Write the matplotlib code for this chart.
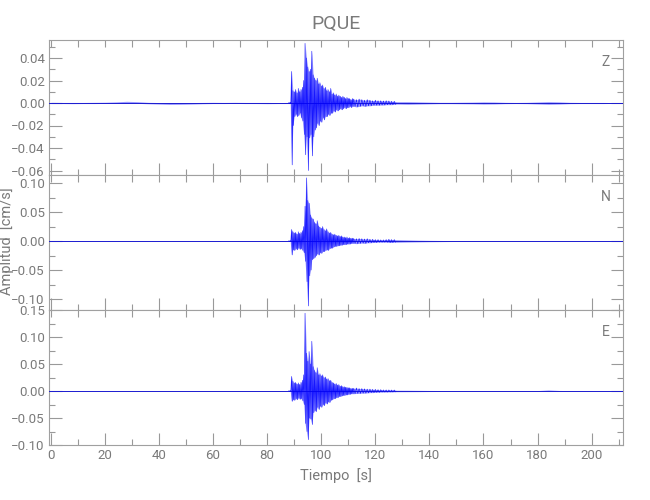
import numpy as np
import matplotlib
matplotlib.use("Agg")
import matplotlib.pyplot as plt
from matplotlib.ticker import MultipleLocator

# %%
# datos leidos del sismograma (envolvente superior / inferior por muestra)
station = "PQUE"
components = ["Z", "N", "E"]

# rejilla de tiempo [s]: ruido previo, llegada, coda, ruido posterior
t_pre = np.arange(0, 88, 4.0)
t_evt = np.arange(88, 112, 0.5)
t_coda = np.arange(112, 128, 1.0)
t_post = np.arange(128, 213, 4.0)

z_hi = [0.0006, 0.0005, 0.0005, 0.0005, 0.0006, 0.0007, 0.0010, 0.0015, 0.0012, 0.0006, 0.0004,
        0.0003, 0.0004, 0.0004, 0.0005, 0.0006, 0.0005, 0.0006, 0.0005, 0.0005, 0.0005, 0.0004,
        0.0005, 0.0006, 0.028, 0.011, 0.010, 0.012, 0.009, 0.013, 0.010, 0.012, 0.014, 0.020,
        0.053, 0.040, 0.032, 0.028, 0.030, 0.046, 0.025, 0.022, 0.020, 0.022, 0.017, 0.018,
        0.015, 0.016, 0.013, 0.014, 0.011, 0.012, 0.010, 0.013, 0.008, 0.009, 0.007, 0.008,
        0.006, 0.007, 0.006, 0.005, 0.006, 0.005, 0.004, 0.005, 0.004, 0.004, 0.003, 0.004,
        0.0035, 0.003, 0.0035, 0.003, 0.0025, 0.003, 0.0025, 0.002, 0.0025, 0.002, 0.002, 0.0018,
        0.002, 0.0018, 0.0015, 0.0015,
        0.0012, 0.0012, 0.0010, 0.0008, 0.0006, 0.0006, 0.0007, 0.0008, 0.0010, 0.0009, 0.0006,
        0.0005, 0.0006, 0.0009, 0.0012, 0.0010, 0.0006, 0.0005, 0.0005, 0.0005, 0.0004, 0.0004]
z_lo = [-0.0005, -0.0005, -0.0006, -0.0005, -0.0005, -0.0004, -0.0003, -0.0002, -0.0003, -0.0007, -0.0010,
        -0.0013, -0.0012, -0.0010, -0.0007, -0.0005, -0.0005, -0.0004, -0.0005, -0.0005, -0.0006, -0.0005,
        -0.0005, -0.0006, -0.055, -0.020, -0.012, -0.010, -0.012, -0.011, -0.009, -0.013, -0.016, -0.028,
        -0.046, -0.030, -0.060, -0.031, -0.028, -0.047, -0.030, -0.024, -0.022, -0.018, -0.020, -0.016,
        -0.017, -0.013, -0.015, -0.012, -0.012, -0.010, -0.011, -0.009, -0.009, -0.007, -0.008, -0.006,
        -0.007, -0.006, -0.005, -0.006, -0.005, -0.004, -0.005, -0.004, -0.004, -0.003, -0.004, -0.003,
        -0.003, -0.0035, -0.003, -0.0025, -0.003, -0.0025, -0.0025, -0.002, -0.002, -0.002, -0.0018, -0.0018,
        -0.0015, -0.0015, -0.0015, -0.0012,
        -0.0010, -0.0012, -0.0010, -0.0008, -0.0006, -0.0006, -0.0007, -0.0008, -0.0010, -0.0009, -0.0006,
        -0.0005, -0.0006, -0.0009, -0.0012, -0.0010, -0.0006, -0.0005, -0.0005, -0.0005, -0.0004, -0.0004]

n_hi = [0.0006, 0.0006, 0.0005, 0.0006, 0.0006, 0.0005, 0.0006, 0.0006, 0.0007, 0.0006, 0.0006,
        0.0005, 0.0006, 0.0006, 0.0005, 0.0006, 0.0006, 0.0005, 0.0006, 0.0007, 0.0006, 0.0006,
        0.0006, 0.0008, 0.020, 0.016, 0.014, 0.015, 0.012, 0.016, 0.013, 0.015, 0.018, 0.025,
        0.060, 0.109, 0.070, 0.065, 0.045, 0.040, 0.038, 0.032, 0.030, 0.035, 0.026, 0.024,
        0.022, 0.025, 0.020, 0.018, 0.021, 0.016, 0.014, 0.015, 0.012, 0.011, 0.012, 0.010,
        0.009, 0.010, 0.008, 0.009, 0.007, 0.007, 0.006, 0.007, 0.005, 0.006, 0.005, 0.005,
        0.0045, 0.004, 0.0045, 0.004, 0.0035, 0.004, 0.003, 0.003, 0.0025, 0.0025, 0.002, 0.002,
        0.0025, 0.003, 0.0025, 0.0025,
        0.0025, 0.0020, 0.0015, 0.0012, 0.0010, 0.0008, 0.0007, 0.0007, 0.0006, 0.0006, 0.0006,
        0.0006, 0.0006, 0.0006, 0.0007, 0.0006, 0.0006, 0.0006, 0.0005, 0.0006, 0.0006, 0.0006]
n_lo = [-0.0006, -0.0005, -0.0006, -0.0006, -0.0005, -0.0006, -0.0006, -0.0006, -0.0006, -0.0005, -0.0006,
        -0.0006, -0.0006, -0.0005, -0.0006, -0.0006, -0.0005, -0.0006, -0.0006, -0.0006, -0.0006, -0.0005,
        -0.0006, -0.0008, -0.024, -0.015, -0.016, -0.013, -0.015, -0.012, -0.014, -0.013, -0.016, -0.020,
        -0.035, -0.070, -0.112, -0.060, -0.050, -0.032, -0.030, -0.028, -0.025, -0.022, -0.024, -0.020,
        -0.021, -0.018, -0.018, -0.016, -0.015, -0.016, -0.013, -0.012, -0.012, -0.010, -0.009, -0.009,
        -0.008, -0.008, -0.007, -0.007, -0.006, -0.006, -0.006, -0.005, -0.005, -0.005, -0.004, -0.004,
        -0.004, -0.0045, -0.004, -0.0035, -0.004, -0.003, -0.003, -0.0025, -0.0025, -0.002, -0.002, -0.002,
        -0.002, -0.0025, -0.0025, -0.002,
        -0.0022, -0.0018, -0.0015, -0.0012, -0.0010, -0.0008, -0.0007, -0.0007, -0.0006, -0.0006, -0.0006,
        -0.0006, -0.0006, -0.0006, -0.0006, -0.0006, -0.0006, -0.0006, -0.0005, -0.0006, -0.0006, -0.0006]

e_hi = [0.0006, 0.0006, 0.0006, 0.0005, 0.0006, 0.0006, 0.0006, 0.0005, 0.0006, 0.0006, 0.0006,
        0.0005, 0.0006, 0.0006, 0.0006, 0.0005, 0.0006, 0.0006, 0.0006, 0.0006, 0.0005, 0.0006,
        0.0006, 0.0008, 0.027, 0.018, 0.015, 0.016, 0.013, 0.015, 0.012, 0.016, 0.020, 0.030,
        0.144, 0.070, 0.055, 0.073, 0.050, 0.092, 0.045, 0.038, 0.034, 0.043, 0.030, 0.032,
        0.028, 0.030, 0.025, 0.026, 0.022, 0.023, 0.019, 0.020, 0.016, 0.015, 0.013, 0.014,
        0.011, 0.012, 0.009, 0.010, 0.008, 0.008, 0.007, 0.007, 0.006, 0.006, 0.005, 0.005,
        0.005, 0.0055, 0.0045, 0.0045, 0.004, 0.0035, 0.0035, 0.003, 0.003, 0.0025, 0.0025, 0.002,
        0.002, 0.002, 0.0018, 0.0018,
        0.0015, 0.0014, 0.0012, 0.0010, 0.0009, 0.0008, 0.0008, 0.0007, 0.0007, 0.0007, 0.0007,
        0.0007, 0.0007, 0.0008, 0.0020, 0.0010, 0.0007, 0.0007, 0.0006, 0.0006, 0.0006, 0.0006]
e_lo = [-0.0006, -0.0006, -0.0005, -0.0006, -0.0006, -0.0006, -0.0005, -0.0006, -0.0006, -0.0006, -0.0005,
        -0.0006, -0.0006, -0.0006, -0.0005, -0.0006, -0.0006, -0.0006, -0.0005, -0.0006, -0.0006, -0.0006,
        -0.0006, -0.0008, -0.019, -0.016, -0.017, -0.014, -0.016, -0.013, -0.015, -0.014, -0.018, -0.025,
        -0.060, -0.075, -0.090, -0.050, -0.052, -0.062, -0.040, -0.036, -0.038, -0.030, -0.034, -0.028,
        -0.030, -0.025, -0.027, -0.022, -0.024, -0.020, -0.021, -0.017, -0.016, -0.014, -0.014, -0.012,
        -0.012, -0.010, -0.010, -0.009, -0.008, -0.008, -0.007, -0.007, -0.006, -0.006, -0.005, -0.005,
        -0.005, -0.0045, -0.0045, -0.004, -0.004, -0.0035, -0.003, -0.003, -0.0025, -0.0025, -0.002, -0.002,
        -0.002, -0.0018, -0.0018, -0.0015,
        -0.0014, -0.0013, -0.0012, -0.0010, -0.0009, -0.0008, -0.0008, -0.0007, -0.0007, -0.0007, -0.0007,
        -0.0007, -0.0007, -0.0007, -0.0008, -0.0008, -0.0007, -0.0007, -0.0006, -0.0006, -0.0006, -0.0006]

y_limits = [(-0.064, 0.056), (-0.119, 0.114), (-0.10, 0.15)]
y_major = [0.02, 0.05, 0.05]
y_minor = [0.01, 0.025, 0.025]

# %%
gris = "#7a7a7a"
plt.rcParams["font.family"] = ["Roboto", "DejaVu Sans"]
plt.rcParams["text.color"] = gris
plt.rcParams["axes.labelcolor"] = gris
plt.rcParams["axes.edgecolor"] = "#a0a0a0"
plt.rcParams["xtick.color"] = "#999999"
plt.rcParams["ytick.color"] = "#999999"
plt.rcParams["xtick.labelcolor"] = gris
plt.rcParams["ytick.labelcolor"] = gris

t_all = np.concatenate([t_pre, t_evt, t_coda, t_post])
paso = np.concatenate([np.full(len(t_pre), 4.0), np.full(len(t_evt), 0.5),
                       np.full(len(t_coda), 1.0), np.full(len(t_post), 4.0)])
tx = np.column_stack([t_all, t_all + paso / 2]).ravel()
# solo se traza el zigzag de picos en la llegada y la coda
activo = np.repeat((t_all >= 88) & (t_all < 128), 2)

series = [(z_hi, z_lo), (n_hi, n_lo), (e_hi, e_lo)]

fig = plt.figure(figsize=(6.5, 5), dpi=100, facecolor="white")
left, width, h = 49 / 650, 574 / 650, 135 / 500
bottoms = [0.65, 0.38, 0.11]

for i, comp in enumerate(components):
    ax = fig.add_axes([left, bottoms[i], width, h])
    hi, lo = series[i]
    yy = np.column_stack([hi, lo]).ravel()
    ax.fill_between(t_all, lo, hi, color="#0000ff", alpha=0.4, lw=0, zorder=2)
    ax.axhline(0, color="#1c1cd0", lw=0.7, zorder=3)
    ax.plot(tx[activo], yy[activo], color="#0000ff", lw=0.45, alpha=0.85, zorder=4)
    ax.set_xlim(-0.7, 211.6)
    ax.set_ylim(*y_limits[i])
    ax.xaxis.set_major_locator(MultipleLocator(20))
    ax.xaxis.set_minor_locator(MultipleLocator(10))
    ax.yaxis.set_major_locator(MultipleLocator(y_major[i]))
    ax.yaxis.set_minor_locator(MultipleLocator(y_minor[i]))
    ax.tick_params(which="both", direction="in", right=True, top=False, labelsize=9.5, width=0.8)
    ax.tick_params(which="major", length=9, pad=3)
    ax.tick_params(which="minor", length=4.5)
    sec = ax.secondary_xaxis("top")
    sec.xaxis.set_major_locator(MultipleLocator(10))
    sec.tick_params(direction="in", length=5, labeltop=False, width=0.8)
    sec.spines["top"].set_visible(False)
    ax.yaxis.set_major_formatter(lambda v, p: f"{v:.2f}".replace("-", "\u2212"))
    if i < 2:
        ax.tick_params(labelbottom=False)
    ax.text(0.97, 0.837, comp, transform=ax.transAxes, ha="center", va="center", fontsize=10)
    if i == 0:
        ax.set_title(station, fontsize=14, color=gris, pad=8)
    if i == 2:
        ax.set_xlabel("Tiempo  [s]", fontsize=10.5, labelpad=4)

fig.text(7 / 650, 1 - 241 / 500, "Amplitud  [cm/s]", rotation=90, ha="center", va="center",
         fontsize=10.5, color=gris)

plt.savefig("out.png", dpi=100, facecolor="white")
